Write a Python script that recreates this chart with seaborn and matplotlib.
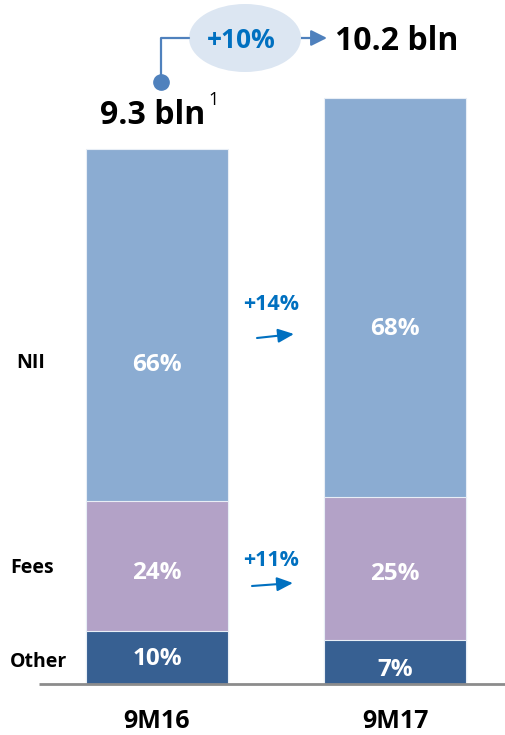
import matplotlib
matplotlib.use("Agg")
import matplotlib.pyplot as plt
from matplotlib.patches import Ellipse
import seaborn as sns
import numpy as np

periods = ["9M16", "9M17"]
segments = ["Other", "Fees", "NII"]
other_bln = [0.93, 0.76]
fees_bln = [2.25, 2.49]
nii_bln = [6.12, 6.95]
share_labels = {
    "Other": ["10%", "7%"],
    "Fees": ["24%", "25%"],
    "NII": ["66%", "68%"],
}
totals = ["9.3 bln", "10.2 bln"]
growth_total = "+10%"
growth_nii = "+14%"
growth_fees = "+11%"

colors = {"NII": "#8BACD2", "Fees": "#B3A2C7", "Other": "#376092"}
blue = "#0070C0"

sns.set_theme(style="white")
plt.rcParams["font.family"] = ["Open Sans", "DejaVu Sans"]
plt.rcParams["text.color"] = "black"

W, H = 506, 735
fig = plt.figure(figsize=(W / 100, H / 100), dpi=100)
ax = fig.add_axes([0, 0, 1, 1])

# stacked bars: draw cumulative heights on top of each other
cum_fees = np.array(other_bln) + np.array(fees_bln)
cum_all = cum_fees + np.array(nii_bln)
for vals, seg in [(cum_all, "NII"), (cum_fees, "Fees"), (other_bln, "Other")]:
    sns.barplot(x=periods, y=vals, color=colors[seg], width=0.6, saturation=1,
                edgecolor="#e8eef6", linewidth=0.8, ax=ax)

# axes geometry (px -> data): bar centres at 157 / 395 px, baseline at 684 px
px_x = 238.0
px_y = 57.5
ax.set_xlim(-157 / px_x, 1 + (W - 395) / px_x)
ax.set_ylim(-(H - 684) / px_y, 684 / px_y)
ax.axis("off")
ax.plot([(39 - 157) / px_x, (W - 157) / px_x], [0, 0], color="#8c8c8c", lw=2,
        solid_capstyle="butt", zorder=5)

# share labels inside segments
bottoms = {"Other": np.zeros(2), "Fees": np.array(other_bln), "NII": cum_fees}
heights = {"Other": np.array(other_bln), "Fees": np.array(fees_bln), "NII": np.array(nii_bln)}
offsets = {"Other": [-0.03, -0.13], "Fees": [-0.12, -0.1], "NII": [-0.7, -0.55]}
for seg in segments:
    for i in range(2):
        y = bottoms[seg][i] + heights[seg][i] / 2 + offsets[seg][i]
        ax.text(i, y, share_labels[seg][i], color="white", fontsize=17.5,
                fontweight="bold", ha="center", va="center")


def fx(x):
    return x / W


def fy(y):
    return 1 - y / H


# left-hand segment names
for name, x, y in [("NII", 16, 363), ("Fees", 10, 568), ("Other", 10, 662)]:
    fig.text(fx(x), fy(y), name, fontsize=14, fontweight="bold",
             color="black", ha="left", va="center")

# period labels
for i, p in enumerate(periods):
    fig.text(fx(157 + i * 238), fy(721), p, fontsize=18, fontweight="bold",
             ha="center", va="center")

# growth arrows between bars
for txt, ty, (x0, y0, x1, y1) in [(growth_nii, 305, (257, 338, 294, 334)),
                                   (growth_fees, 560, (252, 586, 293, 583))]:
    fig.text(fx(271), fy(ty), txt, color=blue, fontsize=15.5, fontweight="bold",
             ha="center", va="center")
    ax.annotate("", xy=(fx(x1), fy(y1)), xytext=(fx(x0), fy(y0)),
                xycoords="figure fraction", textcoords="figure fraction",
                arrowprops=dict(arrowstyle="-|>,head_length=0.8,head_width=0.35",
                                color=blue, lw=1.5, shrinkA=0, shrinkB=0))

# totals
fig.text(fx(153), fy(116), totals[0], fontsize=23, fontweight="bold",
         ha="center", va="center")
fig.text(fx(208), fy(100), "1", fontsize=13, ha="left", va="center")
fig.text(fx(397), fy(41), totals[1], fontsize=23, fontweight="bold",
         ha="center", va="center")

# growth bubble with connector
ell = Ellipse((fx(245), fy(38)), 112 / W, 68 / H, transform=fig.transFigure,
              facecolor="#DCE6F2", edgecolor="none")
fig.patches.append(ell)
fig.text(fx(241), fy(41), growth_total, color=blue, fontsize=19,
         fontweight="bold", ha="center", va="center")
conn = "#4F81BD"
fig.lines.append(plt.Line2D([fx(161), fx(161), fx(189)], [fy(82), fy(38), fy(38)],
                            transform=fig.transFigure, color=conn, lw=1.6))
fig.lines.append(plt.Line2D([fx(161)], [fy(82)], transform=fig.transFigure,
                            marker="o", markersize=11, color=conn))
ax.annotate("", xy=(fx(327), fy(38)), xytext=(fx(301), fy(38)),
            xycoords="figure fraction", textcoords="figure fraction",
            arrowprops=dict(arrowstyle="-|>,head_length=0.8,head_width=0.4",
                            color=conn, lw=1.6, shrinkA=0, shrinkB=0))

fig.savefig("out.png", dpi=100)
